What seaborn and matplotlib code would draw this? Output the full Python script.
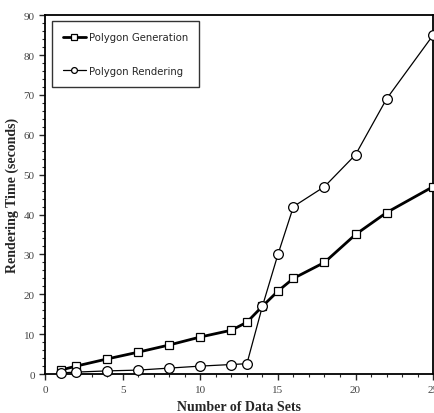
import numpy as np
import pandas as pd
import matplotlib
matplotlib.use("Agg")
import matplotlib.pyplot as plt
import seaborn as sns
from matplotlib.ticker import MultipleLocator

data_sets = [1, 2, 4, 6, 8, 10, 12, 13, 14, 15, 16, 18, 20, 22, 25]
generation = [1.0, 2.0, 3.8, 5.5, 7.3, 9.3, 11.0, 13.0, 17.0, 20.8, 24.0, 28.0, 35.0, 40.5, 47.0]
rendering = [0.3, 0.5, 0.8, 1.0, 1.5, 2.0, 2.4, 2.6, 17.0, 30.0, 42.0, 47.0, 55.0, 69.0, 85.0]

df = pd.DataFrame({"sets": data_sets, "gen": generation, "ren": rendering})

sns.set_style("ticks")
plt.rcParams["font.family"] = ["Liberation Serif", "DejaVu Serif"]

fig = plt.figure(figsize=(4.34, 4.14), dpi=100)
ax = fig.add_axes([0.104, 0.094, 0.894, 0.867])

sns.lineplot(data=df, x="sets", y="gen", ax=ax, color="black", linewidth=2.0,
             marker="s", markersize=6.3, markerfacecolor="white", markeredgecolor="black",
             markeredgewidth=0.9, label="Polygon Generation", clip_on=False, zorder=3)
sns.lineplot(data=df, x="sets", y="ren", ax=ax, color="black", linewidth=0.9,
             marker="o", markersize=7, markerfacecolor="white", markeredgecolor="black",
             markeredgewidth=0.9, label="Polygon Rendering", clip_on=False, zorder=4)

ax.set_xlim(0, 25)
ax.set_ylim(0, 90)
ax.xaxis.set_major_locator(MultipleLocator(5))
ax.xaxis.set_minor_locator(MultipleLocator(1))
ax.yaxis.set_major_locator(MultipleLocator(10))
ax.yaxis.set_minor_locator(MultipleLocator(2))
ax.tick_params(which="major", direction="out", length=4, width=1, labelsize=8, labelcolor="#444444")
ax.tick_params(which="minor", direction="out", length=2, width=0.8)
ax.tick_params(top=False, right=False, which="both")
for s in ax.spines.values():
    s.set_linewidth(1.3)
    s.set_color("black")

ax.set_xlabel("Number of Data Sets", fontsize=10, fontweight="bold", labelpad=5)
ax.set_ylabel("Rendering Time (seconds)", fontsize=10, fontweight="bold", labelpad=3)

leg = ax.legend(loc="upper left", bbox_to_anchor=(0.005, 0.997), frameon=True, fancybox=False,
                prop={"family": "DejaVu Sans", "size": 7.3}, handlelength=2.2,
                handletextpad=0.3, labelspacing=2.3, borderpad=1.1, markerscale=0.6)
leg.get_frame().set_edgecolor("black")
leg.get_frame().set_linewidth(1.0)

fig.savefig("out.png", dpi=100)
